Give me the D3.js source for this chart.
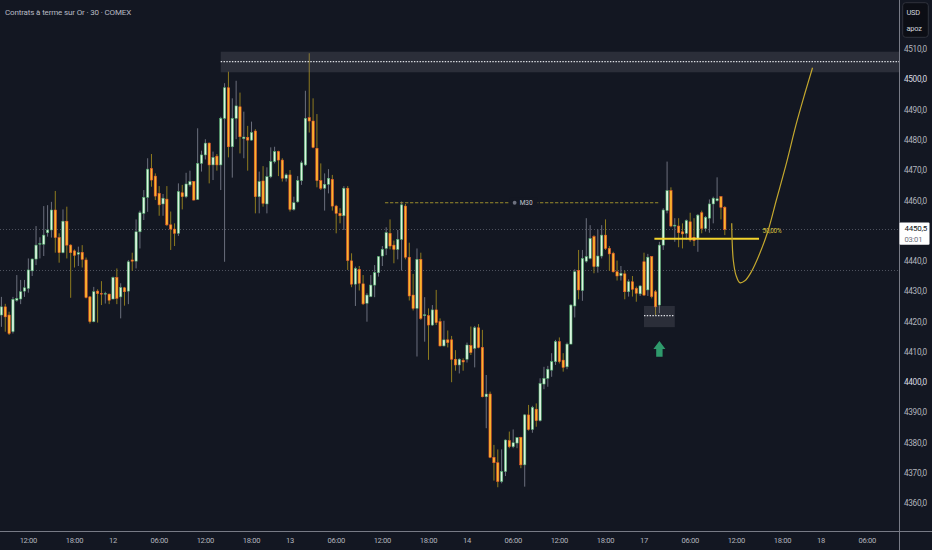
<!DOCTYPE html>
<html>
<head>
<meta charset="utf-8">
<script src="https://cdn.jsdelivr.net/npm/d3@7"></script>
<style>
  html, body { margin: 0; padding: 0; background: #131722; }
  svg { display: block; }
  text { font-family: Roboto, "Noto Sans", sans-serif; }
</style>
</head>
<body>
<svg id="chart"></svg>
<script>
// ---- data: 30 min candles, bar 0 = day 12 00:00 ----
var firstBar = -29;

var opens = [
  4422.2, 4424.9, 4422.2, 4416.7, 4427.1, 4427.5, 4430.1, 4431.0, 4436.8, 4440.7,
  4445.6, 4445.6, 4449.4, 4450.3, 4456.9, 4447.8, 4442.8, 4453.2, 4445.3, 4443.4,
  4442.3, 4442.9, 4440.4, 4428.2, 4420.0, 4430.1, 4429.3, 4429.1, 4429.1, 4427.5,
  4434.6, 4428.2, 4431.2, 4430.1, 4440.4, 4440.0, 4449.7, 4455.8, 4461.1, 4470.6,
  4468.1, 4462.4, 4458.9, 4460.5, 4452.0, 4450.6, 4449.2, 4462.6, 4461.3, 4465.2,
  4466.3, 4460.4, 4472.3, 4475.1, 4479.0, 4471.8, 4474.7, 4471.8, 4487.2, 4497.3,
  4477.8, 4487.2, 4491.0, 4480.5, 4480.9, 4480.0, 4483.0, 4461.3, 4466.5, 4458.9,
  4467.9, 4472.9, 4476.2, 4473.4, 4467.4, 4468.5, 4457.1, 4459.6, 4466.6, 4471.8,
  4487.4, 4486.3, 4477.3, 4466.6, 4464.1, 4465.4, 4467.0, 4458.2, 4455.8, 4455.0,
  4464.1, 4440.1, 4432.4, 4437.3, 4432.5, 4426.1, 4428.3, 4432.1, 4436.2, 4441.7,
  4444.2, 4449.2, 4445.3, 4443.9, 4447.2, 4458.2, 4441.3, 4428.8, 4424.4, 4440.6,
  4422.0, 4422.0, 4418.9, 4423.9, 4420.0, 4412.0, 4414.0, 4414.0, 4407.6, 4405.7,
  4407.2, 4407.6, 4412.1, 4411.2, 4418.0, 4411.5, 4395.2, 4396.1, 4375.2, 4373.4,
  4367.2, 4370.5, 4380.7, 4378.7, 4379.9, 4381.8, 4372.7, 4389.2, 4384.4, 4391.1,
  4387.3, 4399.4, 4401.3, 4404.0, 4406.8, 4413.4, 4407.3, 4405.1, 4412.6, 4425.2,
  4436.9, 4430.3, 4440.0, 4440.9, 4448.1, 4438.2, 4441.7, 4448.6, 4444.2, 4442.6,
  4436.5, 4435.2, 4435.8, 4429.9, 4433.2, 4431.0, 4429.2, 4439.8, 4430.5, 4441.5,
  4429.9, 4425.5, 4445.3, 4456.7, 4463.3, 4451.6, 4451.6, 4449.7, 4449.2, 4453.0,
  4447.9, 4447.5, 4456.0, 4450.8, 4454.2, 4458.9, 4460.0, 4461.3, 4457.8
];
var highs = [
  4428.2, 4425.9, 4423.3, 4428.2, 4435.4, 4433.8, 4433.8, 4440.9, 4440.9, 4451.6,
  4447.9, 4458.2, 4458.5, 4459.6, 4463.2, 4449.2, 4457.1, 4458.0, 4445.6, 4443.9,
  4444.8, 4445.3, 4441.2, 4428.5, 4431.5, 4430.7, 4433.4, 4429.9, 4429.3, 4434.9,
  4437.6, 4432.7, 4431.5, 4440.4, 4442.8, 4453.8, 4456.7, 4463.5, 4474.0, 4475.4,
  4469.0, 4464.8, 4462.2, 4464.8, 4456.4, 4452.5, 4465.7, 4465.2, 4469.2, 4469.9,
  4466.5, 4483.9, 4476.5, 4480.3, 4479.2, 4476.2, 4475.4, 4487.7, 4498.8, 4502.6,
  4493.8, 4499.6, 4495.7, 4489.4, 4484.7, 4486.1, 4483.6, 4469.6, 4471.4, 4471.0,
  4477.6, 4477.8, 4476.5, 4474.0, 4469.0, 4470.1, 4461.3, 4468.1, 4473.2, 4496.3,
  4508.7, 4493.8, 4488.6, 4472.3, 4469.0, 4470.4, 4468.5, 4458.6, 4457.5, 4464.8,
  4464.8, 4442.6, 4438.2, 4438.4, 4435.4, 4429.4, 4435.4, 4438.7, 4441.7, 4445.0,
  4451.2, 4453.8, 4446.8, 4450.3, 4459.7, 4458.9, 4446.1, 4435.8, 4444.2, 4442.8,
  4428.1, 4424.4, 4425.5, 4430.5, 4421.1, 4420.3, 4417.1, 4415.3, 4410.6, 4407.9,
  4407.9, 4413.1, 4418.4, 4418.6, 4419.2, 4417.3, 4402.4, 4396.9, 4379.3, 4377.8,
  4377.8, 4381.1, 4383.7, 4384.4, 4381.9, 4382.0, 4389.5, 4392.5, 4392.2, 4393.0,
  4401.3, 4405.1, 4405.4, 4409.6, 4414.0, 4414.8, 4409.6, 4413.1, 4425.8, 4437.3,
  4443.7, 4443.7, 4454.2, 4451.9, 4448.6, 4450.5, 4451.9, 4453.8, 4445.0, 4443.1,
  4440.2, 4438.4, 4436.9, 4434.0, 4435.1, 4431.6, 4432.1, 4442.8, 4442.4, 4441.7,
  4430.5, 4446.4, 4457.5, 4472.9, 4464.4, 4454.2, 4454.2, 4452.5, 4453.8, 4456.0,
  4454.2, 4455.6, 4456.7, 4454.9, 4460.4, 4461.3, 4467.7, 4461.5, 4458.2
];
var lows = [
  4418.3, 4416.7, 4415.6, 4416.1, 4426.6, 4425.8, 4428.2, 4429.6, 4435.1, 4438.7,
  4440.9, 4441.7, 4448.1, 4447.8, 4442.8, 4439.5, 4442.6, 4440.9, 4427.9, 4437.9,
  4438.4, 4437.9, 4427.7, 4419.4, 4419.8, 4419.7, 4425.5, 4426.0, 4425.8, 4427.4,
  4425.8, 4421.1, 4425.3, 4425.8, 4436.8, 4437.6, 4444.2, 4453.6, 4456.3, 4464.6,
  4460.2, 4455.0, 4455.0, 4451.6, 4443.7, 4445.0, 4448.3, 4457.1, 4460.8, 4464.6,
  4460.0, 4460.2, 4469.6, 4473.6, 4465.7, 4466.8, 4469.9, 4463.5, 4439.8, 4474.3,
  4467.6, 4480.3, 4475.6, 4474.0, 4469.9, 4479.8, 4455.8, 4455.8, 4458.0, 4455.8,
  4467.4, 4472.3, 4468.1, 4466.3, 4466.3, 4456.4, 4456.7, 4459.3, 4465.2, 4471.4,
  4482.5, 4477.3, 4464.4, 4463.5, 4456.7, 4462.4, 4456.7, 4449.2, 4452.5, 4450.3,
  4437.1, 4431.4, 4425.2, 4430.3, 4425.5, 4420.0, 4428.1, 4428.1, 4434.9, 4438.4,
  4442.0, 4443.9, 4439.3, 4440.6, 4436.9, 4440.6, 4427.0, 4423.7, 4408.5, 4420.6,
  4413.4, 4407.4, 4418.6, 4418.9, 4411.8, 4411.8, 4411.5, 4400.0, 4403.8, 4402.9,
  4403.8, 4406.5, 4409.0, 4404.9, 4411.2, 4395.0, 4384.8, 4374.9, 4367.5, 4365.3,
  4366.6, 4369.0, 4378.2, 4378.2, 4378.2, 4371.6, 4365.5, 4384.0, 4383.3, 4385.3,
  4387.0, 4397.7, 4398.5, 4401.8, 4405.7, 4406.2, 4403.5, 4404.3, 4412.6, 4421.4,
  4427.4, 4426.9, 4439.5, 4440.6, 4436.0, 4436.2, 4440.9, 4443.7, 4436.8, 4436.2,
  4433.6, 4433.6, 4427.4, 4428.3, 4428.3, 4426.6, 4428.5, 4428.5, 4428.5, 4427.7,
  4422.2, 4422.8, 4443.7, 4455.8, 4451.2, 4446.4, 4444.6, 4444.2, 4447.0, 4446.4,
  4445.0, 4443.1, 4449.2, 4449.8, 4449.4, 4452.5, 4459.7, 4453.8, 4448.6
];
var closes = [
  4424.9, 4421.6, 4416.1, 4427.4, 4427.7, 4429.9, 4431.2, 4437.1, 4440.7, 4445.3,
  4445.8, 4448.6, 4450.3, 4456.9, 4447.8, 4442.8, 4453.2, 4445.3, 4442.8, 4441.9,
  4442.8, 4440.6, 4428.0, 4420.0, 4429.9, 4429.3, 4429.2, 4429.3, 4427.1, 4434.6,
  4427.7, 4431.3, 4429.9, 4439.8, 4440.0, 4449.7, 4456.0, 4461.1, 4470.4, 4466.8,
  4461.5, 4458.6, 4460.8, 4452.0, 4450.6, 4449.2, 4463.0, 4461.3, 4465.5, 4466.3,
  4460.2, 4472.3, 4475.1, 4479.0, 4471.8, 4474.3, 4471.8, 4487.2, 4497.3, 4477.8,
  4487.2, 4491.3, 4481.1, 4481.0, 4480.0, 4482.5, 4461.3, 4466.3, 4459.1, 4467.9,
  4472.9, 4476.2, 4473.4, 4467.4, 4468.5, 4457.1, 4459.3, 4466.6, 4472.5, 4487.2,
  4486.3, 4477.6, 4466.6, 4464.1, 4465.4, 4467.4, 4458.2, 4455.8, 4455.0, 4464.1,
  4440.2, 4432.4, 4437.6, 4432.7, 4425.9, 4428.8, 4432.1, 4436.2, 4441.5, 4443.9,
  4449.4, 4445.0, 4443.9, 4447.2, 4458.6, 4441.3, 4428.5, 4424.4, 4440.6, 4421.1,
  4422.3, 4418.9, 4423.9, 4419.7, 4412.0, 4414.0, 4413.1, 4407.6, 4405.7, 4407.6,
  4406.7, 4412.3, 4409.8, 4418.0, 4411.5, 4395.2, 4396.1, 4375.2, 4373.4, 4367.2,
  4370.5, 4380.9, 4378.7, 4380.0, 4381.7, 4372.7, 4389.2, 4384.4, 4391.7, 4387.3,
  4399.6, 4401.3, 4404.3, 4406.8, 4413.4, 4406.8, 4404.9, 4412.6, 4425.5, 4436.5,
  4430.5, 4440.9, 4441.5, 4447.5, 4438.2, 4441.7, 4448.6, 4444.2, 4442.4, 4436.5,
  4435.1, 4436.0, 4429.9, 4433.2, 4430.7, 4429.4, 4431.8, 4428.8, 4441.3, 4428.3,
  4424.9, 4445.3, 4456.9, 4463.3, 4451.6, 4451.9, 4449.4, 4449.0, 4453.4, 4447.0,
  4446.8, 4455.2, 4450.8, 4454.5, 4458.9, 4460.8, 4460.6, 4457.8, 4450.5
];

// axis labels
var priceTicks = [4360, 4370, 4380, 4390, 4400, 4410, 4420, 4430, 4440, 4450, 4460, 4470, 4480, 4490, 4500, 4510];
var timeTickBars = [-22, -10, 0, 12, 24, 36, 46, 58, 70, 82, 92, 104, 116, 128, 138, 150, 162, 174, 184, 196];
var timeTickLabels = ["12:00", "18:00", "12", "06:00", "12:00", "18:00", "13", "06:00", "12:00", "18:00",
                      "14", "06:00", "12:00", "18:00", "17", "06:00", "12:00", "18:00", "18", "06:00"];

// drawings
var zoneStart = [28, 138];
var zoneEnd = [null, 146];          // null -> runs to the price scale
var zoneLow = [4502.4, 4418.2];
var zoneHigh = [4509.2, 4425.2];
var zoneMid = [4505.9, 4422.0];

var priceLines = [4450.5, 4437.1];  // dotted lines across the chart
var m30Level = 4459.3, m30From = 70.7, m30To = 141.7;
var fibLevel = 4447.4, fibFrom = 140.7, fibTo = 167.9, fibLabel = "50,00%";
var arrowBar = 142, arrowTip = 4413.6, arrowBase = 4408.4;
var curveBars = [160.8, 160.9, 161.2, 161.9, 162.9, 164.2, 165.9, 168.1, 170.3, 172.4, 175.0, 177.6, 179.8, 181.8];
var curvePrices = [4452.5, 4447.0, 4440.4, 4435.4, 4432.9, 4433.5, 4436.5, 4442.6, 4450.3, 4460.2, 4472.3, 4485.5, 4495.4, 4503.9];
var countdown = "03:01";

// ---- setup ----
var W = 932, H = 550;
var plotW = 899, plotH = 531;

var bg = "#131722";
var bullFill = "#dcf5e1", bullLine = "#48a865", bullWick = "#6b6f7d";
var bearFill = "#f8b52c", bearLine = "#ef5530", bearWick = "#8e7b1f";

var svg = d3.select("#chart").attr("width", W).attr("height", H);
svg.append("rect").attr("width", W).attr("height", H).attr("fill", bg);

var x = d3.scaleLinear().domain([0, 184]).range([113, 821]);
var y = d3.scaleLinear().domain([4360, 4510]).range([503.3, 49.3]);

var fr = d3.formatLocale({decimal: ",", thousands: " ", grouping: [3], currency: ["", ""]});
var fmt = fr.format(".1f");

var candles = opens.map(function(o, k) {
  return {i: firstBar + k, o: o, h: highs[k], l: lows[k], c: closes[k]};
});
var lastPrice = closes[closes.length - 1];

svg.append("clipPath").attr("id", "plotClip")
  .append("rect").attr("width", plotW).attr("height", plotH);
var plot = svg.append("g").attr("clip-path", "url(#plotClip)");

// dotted price lines
plot.selectAll(".pline").data(priceLines).enter().append("line")
  .attr("x1", 0).attr("x2", plotW)
  .attr("y1", function(d) { return Math.round(y(d)) + 0.5; })
  .attr("y2", function(d) { return Math.round(y(d)) + 0.5; })
  .attr("stroke", "#4e525e").attr("stroke-width", 1)
  .attr("stroke-dasharray", "1,2");

// candles
var cg = plot.selectAll(".candle").data(candles).enter().append("g");
cg.append("line")
  .attr("x1", function(d) { return x(d.i); })
  .attr("x2", function(d) { return x(d.i); })
  .attr("y1", function(d) { return y(d.h); })
  .attr("y2", function(d) { return y(d.l); })
  .attr("stroke", function(d) { return d.c >= d.o ? bullWick : bearWick; })
  .attr("stroke-width", 1);
cg.append("rect")
  .attr("x", function(d) { return x(d.i) - 1.15; })
  .attr("width", 2.3)
  .attr("y", function(d) { return y(Math.max(d.o, d.c)); })
  .attr("height", function(d) { return Math.max(0.6, Math.abs(y(d.o) - y(d.c))); })
  .attr("fill", function(d) { return d.c >= d.o ? bullFill : bearFill; })
  .attr("stroke", function(d) { return d.c >= d.o ? bullLine : bearLine; })
  .attr("stroke-width", 0.55);

// zones
zoneStart.forEach(function(s, k) {
  var x0 = x(s), x1 = zoneEnd[k] === null ? plotW : x(zoneEnd[k]);
  plot.append("rect")
    .attr("x", x0).attr("width", x1 - x0)
    .attr("y", y(zoneHigh[k])).attr("height", y(zoneLow[k]) - y(zoneHigh[k]))
    .attr("fill", "#787b86").attr("fill-opacity", 0.24);
  plot.append("line")
    .attr("x1", x0).attr("x2", x1)
    .attr("y1", y(zoneMid[k])).attr("y2", y(zoneMid[k]))
    .attr("stroke", "#dfe1e6").attr("stroke-width", 1.2)
    .attr("stroke-dasharray", "1.4,1.4");
});

// M30 dashed level with its label
var m30Mid = (x(m30From) + x(m30To)) / 2;
plot.append("line")
  .attr("x1", x(m30From)).attr("x2", x(m30To))
  .attr("y1", y(m30Level)).attr("y2", y(m30Level))
  .attr("stroke", "#9b8d2c").attr("stroke-width", 1.2)
  .attr("stroke-dasharray", "3.3,1.7");
plot.append("rect")
  .attr("x", m30Mid - 12).attr("y", y(m30Level) - 5)
  .attr("width", 28).attr("height", 10).attr("fill", bg);
plot.append("circle")
  .attr("cx", m30Mid - 7).attr("cy", y(m30Level))
  .attr("r", 1.9).attr("fill", "#6e7280");
plot.append("text")
  .attr("x", m30Mid - 2).attr("y", y(m30Level))
  .attr("dy", "0.35em").attr("font-size", 6.5)
  .attr("fill", "#c3c6ce").text("M30");

// 50 % level
plot.append("line")
  .attr("x1", x(fibFrom)).attr("x2", x(fibTo))
  .attr("y1", y(fibLevel)).attr("y2", y(fibLevel))
  .attr("stroke", "#f4d42c").attr("stroke-width", 2);
plot.append("text")
  .attr("x", x(fibTo) + 3.5).attr("y", y(fibLevel) - 7.5)
  .attr("dy", "0.35em").attr("font-size", 6.3)
  .attr("letter-spacing", -0.2)
  .attr("fill", "#d8c23c").text(fibLabel);

// projection curve
var curvePts = curveBars.map(function(b, k) { return [b, curvePrices[k]]; });
plot.append("path")
  .datum(curvePts)
  .attr("d", d3.line()
    .x(function(d) { return x(d[0]); })
    .y(function(d) { return y(d[1]); })
    .curve(d3.curveCatmullRom.alpha(0.5)))
  .attr("fill", "none").attr("stroke", "#c4a82e").attr("stroke-width", 1.2);

// green arrow
var ax = x(arrowBar), ayTip = y(arrowTip), ayBase = y(arrowBase);
var headH = 8, headW = 6, shaftW = 3.2;
plot.append("path")
  .attr("d", d3.line()([
    [ax, ayTip], [ax + headW, ayTip + headH], [ax + shaftW, ayTip + headH],
    [ax + shaftW, ayBase], [ax - shaftW, ayBase], [ax - shaftW, ayTip + headH],
    [ax - headW, ayTip + headH]
  ]) + "Z")
  .attr("fill", "#2f9a6c");

// ---- axes ----
svg.append("line")
  .attr("x1", plotW + 0.5).attr("x2", plotW + 0.5).attr("y1", 0).attr("y2", H)
  .attr("stroke", "#787b86").attr("stroke-width", 1);
svg.append("line")
  .attr("x1", 0).attr("x2", W).attr("y1", plotH + 0.5).attr("y2", plotH + 0.5)
  .attr("stroke", "#787b86").attr("stroke-width", 1);

// the last price tag hides the tick it sits on
var shownTicks = priceTicks.filter(function(d) { return Math.abs(y(d) - y(lastPrice)) > 12; });
svg.selectAll(".ptick").data(shownTicks).enter().append("text")
  .attr("x", 904).attr("y", function(d) { return y(d); })
  .attr("dy", "0.35em").attr("font-size", 8.2)
  .attr("letter-spacing", -0.3)
  .attr("fill", function(d) { return d % 100 === 0 ? "#d9dbe1" : "#b2b5be"; })
  .text(function(d) { return fmt(d); });

svg.selectAll(".ttick").data(timeTickBars).enter().append("text")
  .attr("x", function(d) { return x(d); }).attr("y", 540.5)
  .attr("dy", "0.35em").attr("text-anchor", "middle")
  .attr("font-size", 7.6).attr("letter-spacing", -0.3)
  .attr("fill", "#b2b5be")
  .text(function(d, k) { return timeTickLabels[k]; });

// last price tag
svg.append("rect")
  .attr("x", plotW + 0.5).attr("y", y(lastPrice) - 7)
  .attr("width", 30).attr("height", 22.3)
  .attr("rx", 1).attr("fill", "#ffffff");
svg.append("text")
  .attr("x", 904.5).attr("y", y(lastPrice) - 1)
  .attr("dy", "0.35em").attr("font-size", 8).attr("letter-spacing", -0.25)
  .attr("fill", "#131722").text(fmt(lastPrice));
svg.append("text")
  .attr("x", 904.5).attr("y", y(lastPrice) + 9.8)
  .attr("dy", "0.35em").attr("font-size", 7.6).attr("letter-spacing", -0.25)
  .attr("fill", "#6d707b").text(countdown);

// currency / unit box
svg.append("rect")
  .attr("x", 902.7).attr("y", 2.7).attr("width", 25.6).attr("height", 34.6)
  .attr("rx", 3).attr("fill", "#0c0e15").attr("stroke", "#2f323c").attr("stroke-width", 1);
svg.append("text").attr("x", 906.5).attr("y", 12.2).attr("dy", "0.35em")
  .attr("font-size", 7.4).attr("letter-spacing", -0.2).attr("fill", "#d1d4dc").text("USD");
svg.append("text").attr("x", 906.5).attr("y", 28.2).attr("dy", "0.35em")
  .attr("font-size", 7.4).attr("letter-spacing", -0.2).attr("fill", "#d1d4dc").text("apoz");

// title
svg.append("text")
  .attr("x", 5).attr("y", 11.7).attr("dy", "0.35em")
  .attr("font-size", 8).attr("letter-spacing", -0.15)
  .attr("fill", "#b8bbc4")
  .text("Contrats à terme sur Or · 30 · COMEX");
</script>
</body>
</html>
